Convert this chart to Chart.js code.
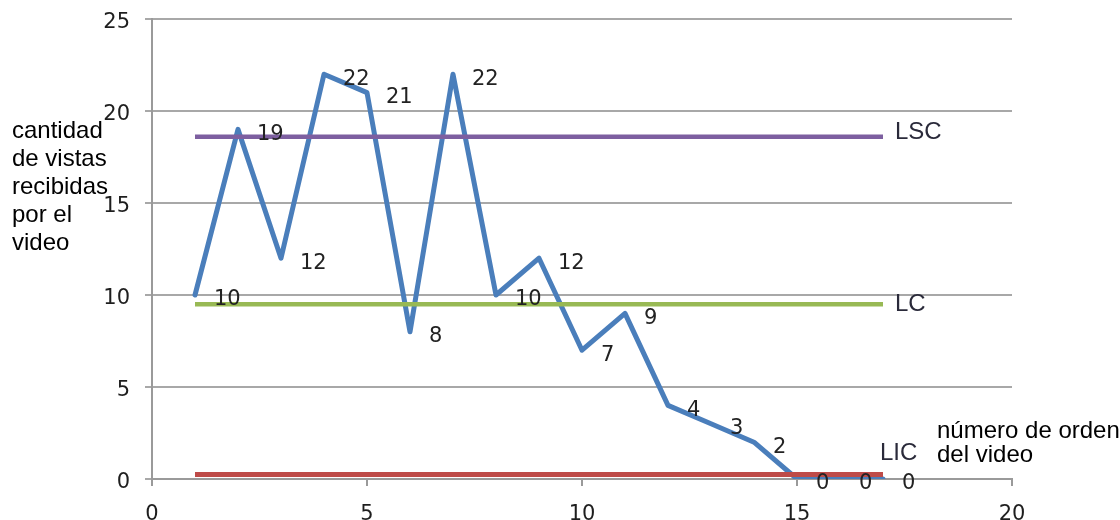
<!DOCTYPE html>
<html>
<head>
<meta charset="utf-8">
<script src="https://cdn.jsdelivr.net/npm/chart.js@4.4.0/dist/chart.umd.min.js"></script>
<style>
  body { margin: 0; background: #fff; }
  #wrap { width: 1120px; height: 520px; position: relative; }
</style>
</head>
<body>
<div id="wrap"><canvas id="grafico"></canvas></div>
<script>
// datos
const ordenVideo = [1, 2, 3, 4, 5, 6, 7, 8, 9, 10, 11, 12, 13, 14, 15, 16, 17];
const vistas = [10, 19, 12, 22, 21, 8, 22, 10, 12, 7, 9, 4, 3, 2, 0, 0, 0];
const limiteSuperior = 18.6; // LSC
const lineaCentral = 9.5;    // LC
const limiteInferior = 0.25; // LIC
const ticksX = [0, 5, 10, 15, 20];
const ticksY = [0, 5, 10, 15, 20, 25];

const tituloY = ['cantidad', 'de vistas', 'recibidas', 'por el', 'video'];
const tituloX = ['número de orden', 'del video'];

function constante(v) {
    return ordenVideo.map(x => ({ x: x, y: v }));
}

// etiquetas de valor y nombres de las lineas de control
const etiquetas = {
    id: 'etiquetas',
    afterDatasetsDraw(chart) {
        const ctx = chart.ctx;
        ctx.save();
        ctx.textBaseline = 'middle';
        ctx.textAlign = 'left';
        // valores de la serie principal
        ctx.font = '21px "DejaVu Sans"';
        ctx.fillStyle = '#222';
        chart.getDatasetMeta(0).data.forEach((p, i) => {
            ctx.fillText(String(vistas[i]), p.x + 19, p.y + 5);
        });
        // nombres LSC / LC / LIC al final de cada linea
        ctx.font = '24px "Liberation Sans"';
        ctx.fillStyle = '#2a2a3a';
        const desplaz = { 1: -4, 2: 0, 3: -21 };
        [1, 2, 3].forEach(i => {
            const pts = chart.getDatasetMeta(i).data;
            const p = pts[pts.length - 1];
            ctx.fillText(chart.data.datasets[i].label, p.x + (i === 3 ? -3 : 12), p.y + desplaz[i]);
        });
        // titulos de los ejes (texto horizontal, como en el original)
        ctx.font = '24px "Liberation Sans"';
        ctx.fillStyle = '#000';
        tituloY.forEach((t, i) => ctx.fillText(t, 12, 131 + i * 28));
        tituloX.forEach((t, i) => ctx.fillText(t, 937, 431 + i * 24));
        ctx.restore();
    }
};

const ctx = document.getElementById('grafico').getContext('2d');
const grafico = new Chart(ctx, {
    type: 'line',
    data: {
        datasets: [
            {
                label: 'vistas',
                data: ordenVideo.map((x, i) => ({ x: x, y: vistas[i] })),
                borderColor: '#4a7ebb',
                borderWidth: 5,
                borderJoinStyle: 'round',
                borderCapStyle: 'round',
                pointRadius: 0,
                tension: 0,
                order: 4
            },
            {
                label: 'LSC',
                data: constante(limiteSuperior),
                borderColor: '#7d5fa0',
                borderWidth: 4.5,
                pointRadius: 0,
                order: 3
            },
            {
                label: 'LC',
                data: constante(lineaCentral),
                borderColor: '#98b954',
                borderWidth: 4.5,
                pointRadius: 0,
                order: 2
            },
            {
                label: 'LIC',
                data: constante(limiteInferior),
                borderColor: '#be4b48',
                borderWidth: 5,
                pointRadius: 0,
                order: 1
            }
        ]
    },
    options: {
        responsive: true,
        maintainAspectRatio: false,
        animation: false,
        layout: { padding: { top: 19, right: 108, left: 0, bottom: 0 } },
        plugins: {
            legend: { display: false },
            tooltip: { enabled: false }
        },
        scales: {
            x: {
                type: 'linear',
                min: 0,
                max: 20,
                afterBuildTicks: s => { s.ticks = ticksX.map(v => ({ value: v })); },
                afterFit: s => { s.height = 41; s.paddingLeft = 0; s.paddingRight = 0; },
                border: { color: '#9a9a9a', width: 2 },
                grid: { drawOnChartArea: false, drawTicks: true, tickLength: 7, color: '#9a9a9a', lineWidth: 2 },
                ticks: { color: '#1e1e1e', font: { family: 'DejaVu Sans', size: 21 }, padding: 16, maxRotation: 0 }
            },
            y: {
                min: 0,
                max: 25,
                afterBuildTicks: s => { s.ticks = ticksY.map(v => ({ value: v })); },
                afterFit: s => { s.width = 152; s.paddingTop = 0; s.paddingBottom = 0; },
                border: { color: '#9a9a9a', width: 2 },
                grid: { color: '#a8a8a8', lineWidth: 2, tickLength: 7 },
                ticks: { color: '#1e1e1e', font: { family: 'DejaVu Sans', size: 21 }, padding: 15, labelOffset: 4 }
            }
        }
    },
    plugins: [etiquetas]
});
</script>
</body>
</html>
